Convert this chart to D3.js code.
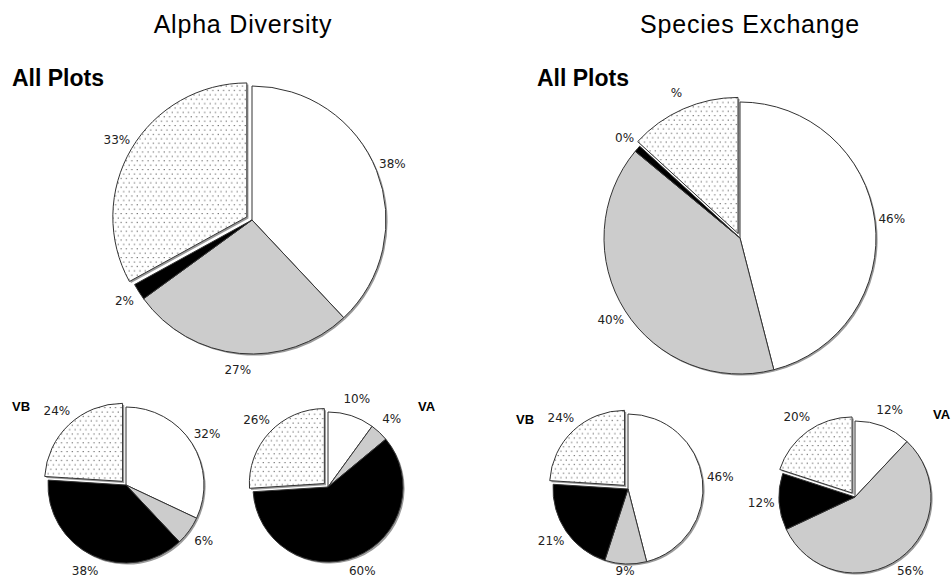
<!DOCTYPE html>
<html>
<head>
<meta charset="utf-8">
<script src="https://cdn.jsdelivr.net/npm/d3@7"></script>
<style>
  html, body { margin: 0; padding: 0; background: #fff; }
  svg { display: block; }
</style>
</head>
<body>
<svg id="chart" width="952" height="579"></svg>
<script>
// ---- data ----
const categories = ["Category 1", "Category 2", "Category 3", "Category 4"];
const panelTitles = ["Alpha Diversity", "Species Exchange"];
const alphaAll = [38, 27, 2, 33];
const alphaAllLabels = ["38%", "27%", "2%", "33%"];
const alphaVB = [32, 6, 38, 24];
const alphaVBLabels = ["32%", "6%", "38%", "24%"];
const alphaVA = [10, 4, 60, 26];
const alphaVALabels = ["10%", "4%", "60%", "26%"];
const speciesAll = [46, 40, 0.8, 13.2];
const speciesAllLabels = ["46%", "40%", "0%", "%"];
const speciesVB = [46, 9, 21, 24];
const speciesVBLabels = ["46%", "9%", "21%", "24%"];
const speciesVA = [12, 56, 12, 20];
const speciesVALabels = ["12%", "56%", "12%", "20%"];

// ---- layout / style ----
const svg = d3.select("#chart");
const defs = svg.append("defs");
const pat = defs.append("pattern").attr("id", "stipple")
  .attr("patternUnits", "userSpaceOnUse").attr("width", 5.4).attr("height", 8.8);
pat.append("rect").attr("width", 5.4).attr("height", 8.8).attr("fill", "#fff");
pat.append("rect").attr("x", 0.6).attr("y", 0.6).attr("width", 1).attr("height", 1).attr("fill", "#333");
pat.append("rect").attr("x", 3.3).attr("y", 5.0).attr("width", 1).attr("height", 1).attr("fill", "#333");

const fills = ["#ffffff", "#cccccc", "#000000", "url(#stipple)"];
const fillScale = d3.scaleOrdinal().domain(categories).range(fills);

const pies = [
  { values: alphaAll, labels: alphaAllLabels, cx: 252, cy: 220, r: 134, explode: 6, lab: 17 },
  { values: speciesAll, labels: speciesAllLabels, cx: 740, cy: 238, r: 136, explode: 5, lab: 17 },
  { values: alphaVB, labels: alphaVBLabels, cx: 126, cy: 485, r: 78, explode: 5, lab: 18 },
  { values: alphaVA, labels: alphaVALabels, cx: 328, cy: 487, r: 75, explode: 5, lab: 18 },
  { values: speciesVB, labels: speciesVBLabels, cx: 628, cy: 489, r: 75, explode: 5, lab: 18 },
  { values: speciesVA, labels: speciesVALabels, cx: 855, cy: 497, r: 76, explode: 5, lab: 18 }
];

const pieGen = d3.pie().sort(null).value(d => d.v);
const maxLabelY = 571;

pies.forEach(p => {
  const data = pieGen(p.values.map((v, i) => ({ v, cat: categories[i], label: p.labels[i] })));
  const arc = d3.arc().innerRadius(0).outerRadius(p.r);
  const g = svg.append("g").attr("transform", `translate(${p.cx},${p.cy})`);
  const off = d => {
    if (d.index !== 3) return [0, 0];
    const m = (d.startAngle + d.endAngle) / 2;
    return [Math.sin(m) * p.explode, -Math.cos(m) * p.explode];
  };
  // shadow
  g.selectAll("path.shadow").data(data).join("path")
    .attr("class", "shadow")
    .attr("d", arc)
    .attr("transform", d => { const o = off(d); return `translate(${o[0] + 1.6},${o[1] + 1.6})`; })
    .attr("fill", "#9a9a9a");
  g.selectAll("path.slice").data(data).join("path")
    .attr("class", "slice")
    .attr("d", arc)
    .attr("transform", d => { const o = off(d); return `translate(${o[0]},${o[1]})`; })
    .attr("fill", d => fillScale(d.data.cat))
    .attr("stroke", "#333")
    .attr("stroke-width", 1)
    .attr("stroke-linejoin", "round");
  const lr = p.r + p.lab;
  g.selectAll("text.lbl").data(data).join("text")
    .attr("class", "lbl")
    .attr("x", d => { const m = (d.startAngle + d.endAngle) / 2; return Math.sin(m) * lr + off(d)[0]; })
    .attr("y", d => {
      const m = (d.startAngle + d.endAngle) / 2;
      return Math.min(-Math.cos(m) * lr + off(d)[1], maxLabelY - p.cy);
    })
    .attr("text-anchor", "middle")
    .attr("dominant-baseline", "central")
    .attr("font-family", "DejaVu Sans, Verdana, sans-serif")
    .attr("font-size", 12)
    .attr("fill", "#222")
    .text(d => d.data.label);
});

// titles
svg.selectAll("text.ptitle").data(panelTitles).join("text")
  .attr("class", "ptitle")
  .attr("x", (d, i) => [243, 750][i])
  .attr("y", 33)
  .attr("text-anchor", "middle")
  .attr("font-family", "Liberation Sans, Arial, sans-serif")
  .attr("font-size", 25)
  .attr("letter-spacing", 0.8)
  .attr("fill", "#000")
  .text(d => d);

const bolds = [
  { t: "All Plots", x: 12, y: 86, s: 23 },
  { t: "All Plots", x: 537, y: 86, s: 23 },
  { t: "VB", x: 12, y: 411, s: 13 },
  { t: "VA", x: 418, y: 411, s: 13 },
  { t: "VB", x: 516, y: 424, s: 13 },
  { t: "VA", x: 933, y: 419, s: 13 }
];
svg.selectAll("text.bold").data(bolds).join("text")
  .attr("class", "bold")
  .attr("x", d => d.x).attr("y", d => d.y)
  .attr("font-family", "Liberation Sans, Arial, sans-serif")
  .attr("font-weight", "bold")
  .attr("font-size", d => d.s)
  .attr("fill", "#000")
  .text(d => d.t);
</script>
</body>
</html>
